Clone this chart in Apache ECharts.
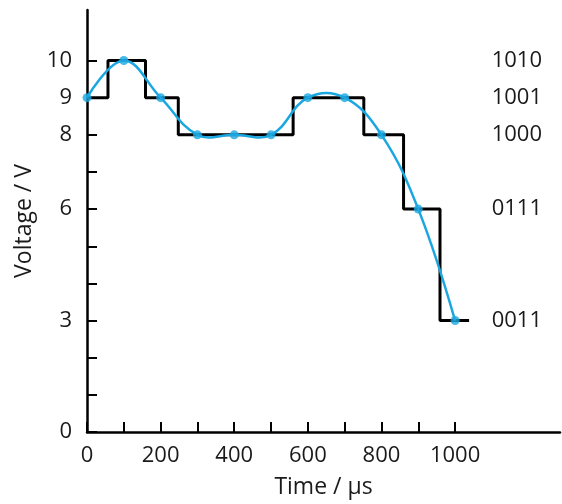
<!DOCTYPE html>
<html>
<head>
    <meta charset="utf-8">
    <title>Voltage sampling</title>
    <script src="https://cdn.jsdelivr.net/npm/echarts@6/dist/echarts.min.js"></script>
    <style>
        html, body { margin: 0; padding: 0; background: #fff; }
        #main { width: 562px; height: 504px; }
    </style>
</head>
<body>
<div id="main"></div>
<script>
    // sampled signal (blue) every 100 us
    var sampleTimes = [0, 100, 200, 300, 400, 500, 600, 700, 800, 900, 1000];
    var sampleVolts = [9, 10, 9, 8, 8, 8, 9, 9, 8, 6, 3];

    // quantised output (black step line)
    var stepTimes = [0, 57, 159, 248, 560, 752, 860, 959, 1038];
    var stepVolts = [9, 10, 9, 8, 9, 8, 6, 3, 3];

    // axis ticks and labels
    var yTicks = [0, 1, 2, 3, 4, 5, 6, 7, 8, 9, 10];
    var yLabels = [0, 3, 6, 8, 9, 10];
    var xTicks = [0, 100, 200, 300, 400, 500, 600, 700, 800, 900, 1000];
    var xLabels = [0, 200, 400, 600, 800, 1000];

    // binary codes on the right
    var codeLevels = [3, 6, 8, 9, 10];
    var codeNames = ['0011', '0111', '1000', '1001', '1010'];

    var font = 'Open Sans';
    var txt = '#1a1a1a';
    var blue = '#1aa7e1';

    function pairs(xs, ys) {
        var out = [];
        for (var i = 0; i < xs.length; i++) out.push([xs[i], ys[i]]);
        return out;
    }

    var chart = echarts.init(document.getElementById('main'));

    var option = {
        animation: false,
        grid: {left: 87, right: 2, top: 10, bottom: 70, containLabel: false},
        xAxis: {
            type: 'value',
            min: 0,
            max: 1285,
            name: 'Time / µs',
            nameLocation: 'middle',
            nameGap: 44,
            nameTextStyle: {fontFamily: font, fontSize: 23, color: txt},
            axisLine: {lineStyle: {color: '#000', width: 2.5}},
            axisTick: {inside: true, length: 10, lineStyle: {color: '#000', width: 2}, customValues: xTicks},
            axisLabel: {
                margin: 13, fontFamily: font, fontSize: 22, color: txt, customValues: xLabels,
                formatter: function (v) { return String(v); }
            },
            splitLine: {show: false}
        },
        yAxis: [{
            type: 'value',
            min: 0,
            max: 11.36,
            name: 'Voltage / V',
            nameLocation: 'middle',
            nameGap: 47,
            nameTextStyle: {fontFamily: font, fontSize: 23, color: txt},
            axisLine: {show: true, lineStyle: {color: '#000', width: 2.5}},
            axisTick: {show: true, inside: true, length: 10, lineStyle: {color: '#000', width: 2}, customValues: yTicks},
            axisLabel: {margin: 15, fontFamily: font, fontSize: 22, color: txt, customValues: yLabels},
            splitLine: {show: false}
        }, {
            type: 'value',
            min: 0,
            max: 11.36,
            position: 'right',
            axisLine: {show: false},
            axisTick: {show: false},
            axisLabel: {
                inside: true,
                margin: 18,
                fontFamily: font,
                fontSize: 22,
                color: txt,
                customValues: codeLevels,
                formatter: function (v) {
                    var i = codeLevels.indexOf(v);
                    return i >= 0 ? codeNames[i] : '';
                }
            },
            splitLine: {show: false}
        }],
        series: [{
            type: 'line',
            step: 'end',
            data: pairs(stepTimes, stepVolts),
            showSymbol: false,
            lineStyle: {color: '#000', width: 3},
            z: 2
        }, {
            // smooth curve through the samples (spline without clamping)
            type: 'custom',
            data: pairs(sampleTimes, sampleVolts),
            encode: {x: 0, y: 1},
            renderItem: function (params, api) {
                if (params.dataIndex !== 0) return null;
                var pts = [];
                for (var i = 0; i < sampleTimes.length; i++) {
                    pts.push(api.coord([sampleTimes[i], sampleVolts[i]]));
                }
                return {
                    type: 'polyline',
                    shape: {points: pts, smooth: 0.4, smoothConstraint: false},
                    style: {stroke: blue, lineWidth: 2.5, fill: null}
                };
            },
            z: 3
        }, {
            type: 'scatter',
            data: pairs(sampleTimes, sampleVolts),
            symbol: 'circle',
            symbolSize: 9,
            itemStyle: {color: blue},
            z: 4
        }]
    };

    chart.setOption(option);
</script>
</body>
</html>
